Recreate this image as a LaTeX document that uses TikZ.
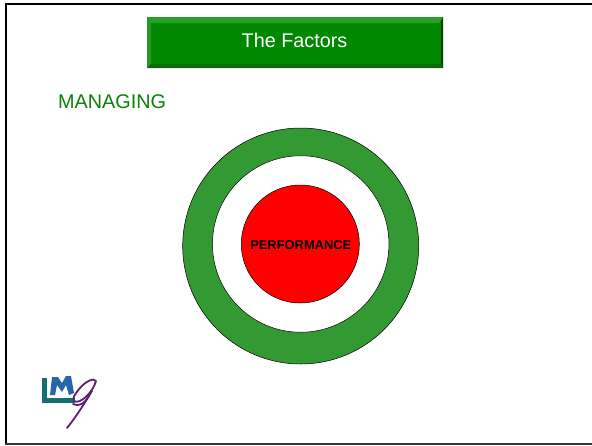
\documentclass[tikz,border=0pt]{standalone}
\usepackage{fontspec}
\setmainfont{Liberation Sans}
\definecolor{bargreen}{RGB}{0,136,0}
\definecolor{barlight}{RGB}{40,160,40}
\definecolor{bardark}{RGB}{0,70,0}
\definecolor{barbottom}{RGB}{10,105,10}
\definecolor{ringgreen}{RGB}{51,153,51}
\definecolor{titlegreen}{RGB}{10,130,10}
\definecolor{logoteal}{RGB}{20,110,115}
\definecolor{logoblue}{RGB}{40,100,170}
\definecolor{logopurple}{RGB}{95,30,115}
\tikzset{
  x=1pt,y=-1pt,
  disc/.style={circle,draw=black,line width=0.5pt,inner sep=0pt},
  logostroke/.style={draw=logopurple,line width=1.8pt,line cap=round,line join=round}
}
\begin{document}
\begin{tikzpicture}
\useasboundingbox (0,0) rectangle (592,445);
\fill[white] (0,0) rectangle (592,445);
% frame
\fill[black] (5,3) rectangle (592,5);
\fill[black] (5,3) rectangle (7,445);
\fill[black!80] (5,443) rectangle (592,445);
% title bar
\fill[bargreen] (147,17) rectangle (443,68);
\fill[barlight] (147,17) -- (443,17) -- (439,23) -- (151,23) -- cycle;
\fill[barlight!80!bargreen] (147,17) -- (151,23) -- (151,64) -- (147,68) -- cycle;
\fill[bardark] (443,17) -- (443,68) -- (441,64) -- (441,21) -- cycle;
\fill[barbottom] (147,68) -- (443,68) -- (441,64) -- (151,64) -- cycle;
\node[text=white,font=\fontsize{19.8}{23}\selectfont,inner sep=0pt] (title) at (294.5,40) {The Factors};
\node[text=titlegreen,font=\fontsize{19.8}{23}\selectfont,inner sep=0pt,anchor=west] (managing) at (58,102) {MANAGING};
% circles
\node[disc,fill=ringgreen,minimum size=236pt] (outer) at (300.7,246) {};
\node[disc,fill=white,minimum size=176.5pt] (middle) at (300.7,244) {};
\node[disc,fill=red,minimum size=118pt] (inner) at (300.3,244) {};
\node[font=\fontsize{12.9}{15}\selectfont\bfseries,text=black,inner sep=0pt] (perf) at (300.8,245) {PERFORMANCE};
% logo
\fill[logoteal] (42,378) rectangle (47,403);
\fill[logoteal] (42,398) rectangle (75,403);
\fill[logoblue] (50,395) -- (52,377) -- (58,377) -- (62,383) -- (66,376) -- (71,376) -- (74,393) -- (69,395) -- (66,385) -- (62,392) -- (57,385) -- (55,395) -- cycle;
\draw[logostroke] (80,388) .. controls (75,394) and (72,398) .. (74,401) .. controls (80,405) and (93,392) .. (96,381) .. controls (94,377) and (85,382) .. (80,388);
\draw[logostroke] (73,404) .. controls (79,407) and (84,404) .. (89,396);
\draw[logostroke] (92,391) .. controls (84,404) and (76,417) .. (67,428);
\end{tikzpicture}
\end{document}
